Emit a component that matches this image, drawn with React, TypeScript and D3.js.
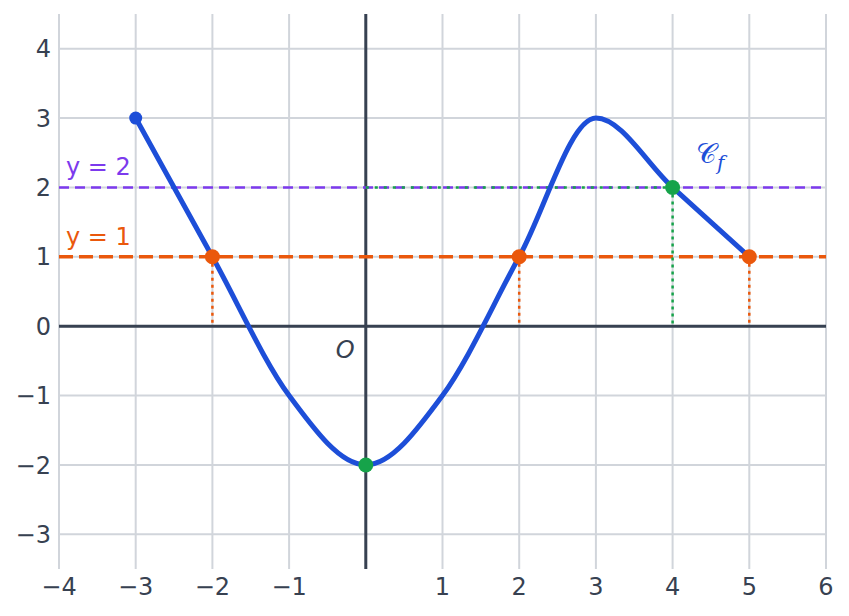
import * as d3 from 'd3';

const W = 849;
const H = 616;
const M = { left: 59, right: 23, top: 14, bottom: 47 };

const X_DOMAIN: [number, number] = [-4, 6];
const Y_DOMAIN: [number, number] = [-3.5, 4.5];
const X_TICKS = [-4, -3, -2, -1, 1, 2, 3, 4, 5, 6];
const X_GRID = [-4, -3, -2, -1, 0, 1, 2, 3, 4, 5, 6];
const Y_TICKS = [-3, -2, -1, 0, 1, 2, 3, 4];

// points of the curve C_f
const CURVE_X = [-3, -2, -1, 0, 1, 2, 3, 4, 5];
const CURVE_Y = [3, 1, -1, -2, -1, 1, 3, 2, 1];

// solutions of f(x) = 1 and f(x) = 2
const SOL1_X = [-2, 2, 5];
const SOL2_X = [4];
const MIN_POINT = { x: 0, y: -2 };

const BLUE = '#1d4ed8';
const ORANGE = '#ea580c';
const PURPLE = '#7c3aed';
const GREEN = '#16a34a';
const AXIS = '#374151';
const GRID = '#d1d5db';
const FONT = 'DejaVu Sans, sans-serif';

const fmt = (v: number) => (v < 0 ? '\u2212' + Math.abs(v) : String(v));

export default function App() {
  const x = d3.scaleLinear().domain(X_DOMAIN).range([M.left, W - M.right]);
  const y = d3.scaleLinear().domain(Y_DOMAIN).range([H - M.bottom, M.top]);

  const pts: [number, number][] = CURVE_X.map((v, i) => [v, CURVE_Y[i]]);
  const path = d3
    .line<[number, number]>()
    .x(d => x(d[0]))
    .y(d => y(d[1]))
    .curve(d3.curveMonotoneX)(pts);

  const top = M.top;
  const bottom = H - M.bottom;
  const left = M.left;
  const right = W - M.right;

  return (
    <svg
      width={W}
      height={H}
      style={{ position: 'absolute', left: 0, top: 0, background: '#fff' }}
      fontFamily={FONT}
    >
      {/* grid */}
      {X_GRID.map(v => (
        <line key={'gx' + v} x1={x(v)} x2={x(v)} y1={top} y2={bottom} stroke={GRID} strokeWidth={2} />
      ))}
      {Y_TICKS.map(v => (
        <line key={'gy' + v} x1={left} x2={right} y1={y(v)} y2={y(v)} stroke={GRID} strokeWidth={2} />
      ))}

      {/* axes */}
      <line x1={left} x2={right} y1={y(0)} y2={y(0)} stroke={AXIS} strokeWidth={3} />
      <line x1={x(0)} x2={x(0)} y1={top} y2={bottom} stroke={AXIS} strokeWidth={3} />

      {/* horizontal reference lines */}
      <line x1={left} x2={right} y1={y(2)} y2={y(2)} stroke={PURPLE} strokeWidth={2.5} strokeDasharray="10 6" />
      <line x1={x(0)} x2={x(4)} y1={y(2)} y2={y(2)} stroke={GREEN} strokeWidth={2.5} strokeDasharray="3 6" />
      <line x1={left} x2={right} y1={y(1)} y2={y(1)} stroke={ORANGE} strokeWidth={3.5} strokeDasharray="14 6" />

      {/* vertical projections */}
      {SOL1_X.map(v => (
        <line key={'p1' + v} x1={x(v)} x2={x(v)} y1={y(1)} y2={y(0)} stroke={ORANGE} strokeWidth={2.5} strokeDasharray="3 4" />
      ))}
      {SOL2_X.map(v => (
        <line key={'p2' + v} x1={x(v)} x2={x(v)} y1={y(2)} y2={y(0)} stroke={GREEN} strokeWidth={2.5} strokeDasharray="3 4" />
      ))}

      {/* curve */}
      <path d={path ?? ''} fill="none" stroke={BLUE} strokeWidth={5} strokeLinejoin="round" />

      {/* points */}
      <circle cx={x(CURVE_X[0])} cy={y(CURVE_Y[0])} r={6.5} fill={BLUE} />
      {SOL1_X.map(v => (
        <circle key={'c1' + v} cx={x(v)} cy={y(1)} r={7.5} fill={ORANGE} />
      ))}
      {SOL2_X.map(v => (
        <circle key={'c2' + v} cx={x(v)} cy={y(2)} r={7.5} fill={GREEN} />
      ))}
      <circle cx={x(MIN_POINT.x)} cy={y(MIN_POINT.y)} r={7.5} fill={GREEN} />

      {/* tick labels */}
      {X_TICKS.map(v => (
        <text key={'tx' + v} x={x(v)} y={bottom + 26} textAnchor="middle" fontSize={24} fill={AXIS}>
          {fmt(v)}
        </text>
      ))}
      {Y_TICKS.map(v => (
        <text key={'ty' + v} x={left - 8} y={y(v)} dy="0.36em" textAnchor="end" fontSize={24} fill={AXIS}>
          {fmt(v)}
        </text>
      ))}

      {/* labels */}
      <text x={x(-0.27)} y={y(-0.33)} dy="0.36em" textAnchor="middle" fontSize={24} fontStyle="italic" fill={AXIS}>
        O
      </text>
      <text x={left + 7} y={y(2.3)} dy="0.36em" fontSize={24} fill={PURPLE}>
        y = 2
      </text>
      <text x={left + 7} y={y(1.3)} dy="0.36em" fontSize={24} fill={ORANGE}>
        y = 1
      </text>
      <text x={x(4.3)} y={y(2.5)} dy="0.36em" fontSize={28} fill={BLUE} fontFamily="DejaVu Serif, serif">
        𝒞
      </text>
      <text x={x(4.58)} y={y(2.36)} dy="0.36em" fontSize={20} fill={BLUE} fontFamily="DejaVu Serif, serif" fontStyle="italic">
        f
      </text>
    </svg>
  );
}
